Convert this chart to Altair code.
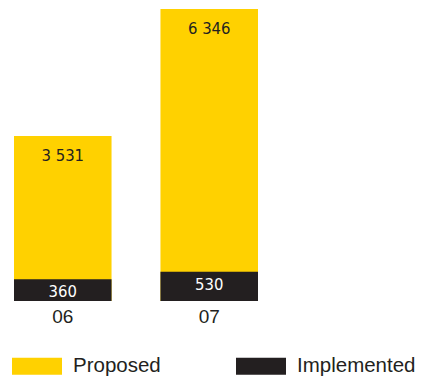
import altair as alt
import pandas as pd

years = ["06", "07"]
proposed = [3531, 6346]
implemented = [360, 530]
series = ["Proposed", "Implemented"]
colors = ["#FFD100", "#231F20"]

df = pd.DataFrame({"year": years, "Proposed": proposed, "Implemented": implemented})

NARROW = "DejaVu Sans Condensed, sans-serif"
REG = "Liberation Sans, sans-serif"
BASE = -120

x = alt.X("year:N", title=None,
          scale=alt.Scale(paddingInner=0.334, paddingOuter=0.0956),
          axis=alt.Axis(labelAngle=0, ticks=False, domain=False, labelPadding=6,
                        labelFontSize=19, labelFont=REG, labelColor="#231F20"))
yscale = alt.Scale(domain=[BASE, 6346], nice=False, zero=False)

base = alt.Chart(df)

bars = base.transform_fold(series, as_=["series", "value"]).mark_bar().encode(
    x=x,
    y=alt.Y("value:Q", scale=yscale, axis=None),
    y2=alt.datum(BASE),
    color=alt.Color("series:N", scale=alt.Scale(domain=series, range=colors),
                    legend=alt.Legend(title=None, orient="none", direction="horizontal",
                                      legendX=12, legendY=332,
                                      symbolType="M-1,-0.34L1,-0.34L1,0.34L-1,0.34Z",
                                      symbolSize=2500, symbolStrokeWidth=0,
                                      labelFontSize=20.5, labelFont=REG, labelColor="#231F20",
                                      labelOffset=11, columnPadding=75, padding=0)),
)

plabels = base.transform_calculate(
    lbl="replace(format(datum.Proposed, ','), ',', ' ')"
).mark_text(baseline="middle", dy=20, fontSize=16.5, font=NARROW, color="#231F20").encode(
    x=x, y=alt.Y("Proposed:Q", scale=yscale, axis=None), text="lbl:N")

ilabels = base.mark_text(baseline="middle", dy=13, fontSize=16.5, font=NARROW, color="#FFFFFF").encode(
    x=x, y=alt.Y("Implemented:Q", scale=yscale, axis=None), text="Implemented:Q")

chart = (bars + plabels + ilabels).properties(
    width=272, height=292,
    autosize=alt.AutoSizeParams(type="none"),
    padding={"left": 0, "top": 9, "right": 149, "bottom": 77},
).configure_view(stroke=None)

chart.save("out.html", embed_options={"renderer": "svg", "actions": False})
